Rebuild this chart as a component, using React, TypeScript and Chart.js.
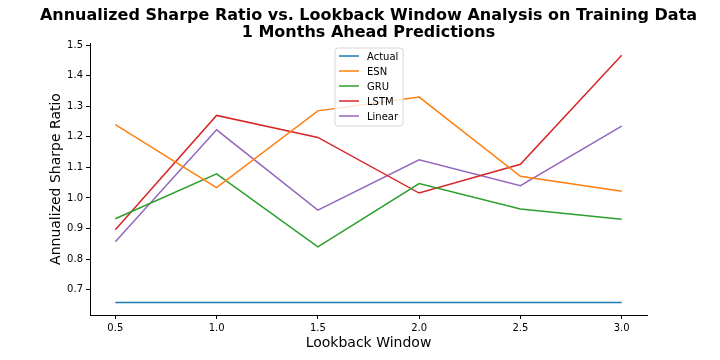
import React, { useEffect, useRef } from "react";
import { Chart, registerables } from "chart.js";

Chart.register(...registerables);

const titleLines = ["Annualized Sharpe Ratio vs. Lookback Window Analysis on Training Data", "1 Months Ahead Predictions"];
const xLabel = "Lookback Window";
const yLabel = "Annualized Sharpe Ratio";
const lookback = [0.5, 1.0, 1.5, 2.0, 2.5, 3.0];
const xTicks = [0.5, 1.0, 1.5, 2.0, 2.5, 3.0];
const yTicks = [0.7, 0.8, 0.9, 1.0, 1.1, 1.2, 1.3, 1.4, 1.5];
const seriesNames = ["Actual", "ESN", "GRU", "LSTM", "Linear"];
const actual = [0.658, 0.658, 0.658, 0.658, 0.658, 0.658];
const esn = [1.24, 1.034, 1.285, 1.33, 1.071, 1.022];
const gru = [0.932, 1.079, 0.84, 1.047, 0.964, 0.93];
const lstm = [0.896, 1.27, 1.198, 1.016, 1.11, 1.467];
const linear = [0.857, 1.223, 0.96, 1.125, 1.04, 1.235];
const colors = ["#1f77b4", "#ff7f0e", "#2ca02c", "#d62728", "#9467bd"];

const FONT = "'DejaVu Sans', sans-serif";

export default function App() {
  const ref = useRef<HTMLCanvasElement>(null);
  useEffect(() => {
    document.body.style.margin = "0";
    const values = [actual, esn, gru, lstm, linear];
    const datasets = seriesNames.map((name, i) => ({
      label: name,
      data: lookback.map((x, j) => ({ x, y: values[i][j] })),
      borderColor: colors[i],
      backgroundColor: colors[i],
      borderWidth: 1.5,
      pointRadius: 0,
      fill: false,
      tension: 0,
    }));

    const overlay = {
      id: "overlay",
      afterDraw(chart: any) {
        const ctx = chart.ctx;
        const ca = chart.chartArea;
        ctx.save();
        ctx.fillStyle = "#000";
        ctx.textAlign = "center";
        ctx.textBaseline = "middle";
        ctx.font = `bold 16px ${FONT}`;
        const cx = (ca.left + ca.right) / 2;
        ctx.fillText(titleLines[0], cx, 16);
        ctx.fillText(titleLines[1], cx, 33);
        ctx.font = `14px ${FONT}`;
        ctx.fillText(xLabel, cx, 343);
        ctx.save();
        ctx.translate(56, (ca.top + ca.bottom) / 2);
        ctx.rotate(-Math.PI / 2);
        ctx.fillText(yLabel, 0, 0);
        ctx.restore();

        // legend
        const bx = 335, by = 48, bw = 68, bh = 78;
        ctx.beginPath();
        const r = 3;
        ctx.moveTo(bx + r, by);
        ctx.arcTo(bx + bw, by, bx + bw, by + bh, r);
        ctx.arcTo(bx + bw, by + bh, bx, by + bh, r);
        ctx.arcTo(bx, by + bh, bx, by, r);
        ctx.arcTo(bx, by, bx + bw, by, r);
        ctx.closePath();
        ctx.fillStyle = "rgba(255,255,255,0.8)";
        ctx.fill();
        ctx.strokeStyle = "#d6d6d6";
        ctx.lineWidth = 1;
        ctx.stroke();
        ctx.font = `10px ${FONT}`;
        ctx.textAlign = "left";
        seriesNames.forEach((n, i) => {
          const y = 56 + i * 15;
          ctx.strokeStyle = colors[i];
          ctx.lineWidth = 1.5;
          ctx.beginPath();
          ctx.moveTo(339, y);
          ctx.lineTo(359, y);
          ctx.stroke();
          ctx.fillStyle = "#000";
          ctx.fillText(n, 367, y + 1);
        });
        ctx.restore();
      },
    };

    const chart = new Chart(ref.current!, {
      type: "line",
      data: { datasets },
      plugins: [overlay],
      options: {
        animation: false,
        responsive: false,
        maintainAspectRatio: false,
        layout: { padding: { top: 43, right: 73, left: 0, bottom: 0 } },
        plugins: { legend: { display: false }, tooltip: { enabled: false }, title: { display: false } },
        scales: {
          x: {
            type: "linear",
            min: 0.375,
            max: 3.125,
            afterFit: (s: any) => { s.height = 45; },
            afterBuildTicks: (s: any) => { s.ticks = xTicks.map((v) => ({ value: v })); },
            grid: { display: true, drawOnChartArea: false, drawTicks: true, tickLength: 4, color: "#000" },
            border: { display: true, color: "#000", width: 1 },
            ticks: { font: { family: FONT, size: 10 }, color: "#000", padding: 3, maxRotation: 0, callback: (v: any) => Number(v).toFixed(1) },
          },
          y: {
            type: "linear",
            min: 0.617,
            max: 1.507,
            afterFit: (s: any) => { s.width = 90; },
            afterBuildTicks: (s: any) => { s.ticks = yTicks.map((v) => ({ value: v })); },
            grid: { display: true, drawOnChartArea: false, drawTicks: true, tickLength: 4, color: "#000" },
            border: { display: true, color: "#000", width: 1 },
            ticks: { font: { family: FONT, size: 10 }, color: "#000", padding: 3, callback: (v: any) => Number(v).toFixed(1) },
          },
        },
      } as any,
    });
    return () => chart.destroy();
  }, []);
  return (
    <div style={{ position: "absolute", left: 0, top: 0, width: 720, height: 360, background: "#fff" }}>
      <canvas ref={ref} width={720} height={360} style={{ width: 720, height: 360 }} />
    </div>
  );
}
